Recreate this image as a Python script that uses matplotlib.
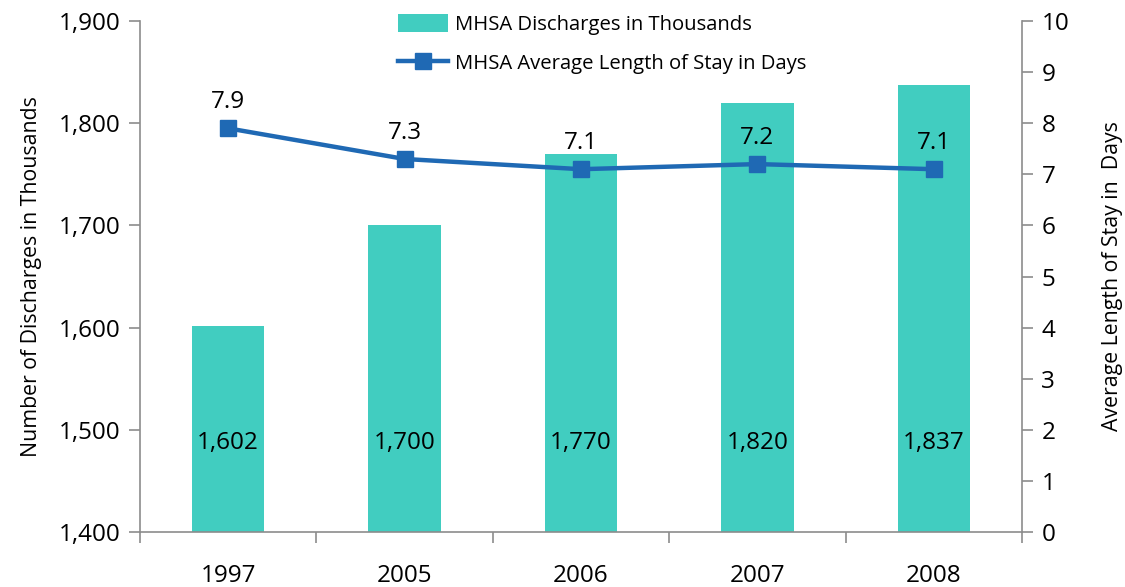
import matplotlib
matplotlib.use("Agg")
import matplotlib.pyplot as plt
import numpy as np
from matplotlib.ticker import FuncFormatter, FixedLocator

plt.rcParams['font.family'] = ['Open Sans', 'DejaVu Sans']

years = ["1997", "2005", "2006", "2007", "2008"]
discharges = [1602, 1700, 1770, 1820, 1837]
alos = [7.9, 7.3, 7.1, 7.2, 7.1]

bar_color = "#41cdc0"
line_color = "#1f69b4"
spine_color = "#8c8c8c"
FS = 17.5
TS = 15.3

fig = plt.figure(figsize=(11.25, 5.87), dpi=100)
ax = fig.add_axes([0.1244, 0.0937, 0.7840, 0.8705])
ax2 = ax.twinx()

x = np.arange(len(years))
bars = ax.bar(x, discharges, width=0.41, color=bar_color, zorder=2,
              label="MHSA Discharges in Thousands")
ax.set_ylim(1400, 1900)
ax.set_xlim(-0.5, len(years) - 0.5)
ax.set_yticks(np.arange(1400, 1901, 100))
ax.yaxis.set_major_formatter(FuncFormatter(lambda v, p: f"{int(v):,}"))
ax.set_xticks(x)
ax.set_xticklabels(years)
ax.xaxis.set_minor_locator(FixedLocator(np.arange(-0.5, len(years), 1.0)))
ax.tick_params(axis='x', which='major', length=0, pad=23, labelsize=FS)
ax.tick_params(axis='x', which='minor', length=8, width=1.2, color=spine_color, direction='out')
ax.tick_params(axis='y', length=8, width=1.2, color=spine_color, labelsize=FS, pad=6)
ax.set_ylabel("Number of Discharges in Thousands", fontsize=TS, labelpad=12)

for xi, v in zip(x, discharges):
    ax.text(xi, 1487, f"{v:,}", ha='center', va='center', fontsize=FS, zorder=5)

line, = ax2.plot(x, alos, color=line_color, lw=3.2, marker='s', markersize=12,
                 label="MHSA Average Length of Stay in Days", zorder=4)
ax2.set_ylim(0, 10)
ax2.set_yticks(np.arange(0, 11, 1))
ax2.tick_params(axis='y', length=8, width=1.2, color=spine_color, labelsize=FS, pad=6)
ax2.set_ylabel("Average Length of Stay in  Days", fontsize=TS, labelpad=24)
for xi, v in zip(x, alos):
    ax2.annotate(f"{v}", (xi, v), xytext=(0, 10), textcoords='offset points',
                 ha='center', va='bottom', fontsize=FS)

for a in (ax, ax2):
    a.spines['top'].set_visible(False)
    for s in ('left', 'right', 'bottom'):
        a.spines[s].set_color(spine_color)
        a.spines[s].set_linewidth(1.2)
ax.spines['right'].set_visible(False)
ax2.spines['left'].set_visible(False)
ax2.spines['bottom'].set_visible(False)

ax.set_zorder(ax2.get_zorder() - 1)
ax2.patch.set_visible(False)

fig.legend([bars, line], [bars.get_label(), line.get_label()],
           loc='upper center', bbox_to_anchor=(0.535, 1.008), frameon=False,
           fontsize=14.6, handlelength=2.5, handleheight=1.0, labelspacing=0.9,
           handletextpad=0.3)

fig.savefig("out.png", dpi=100)
